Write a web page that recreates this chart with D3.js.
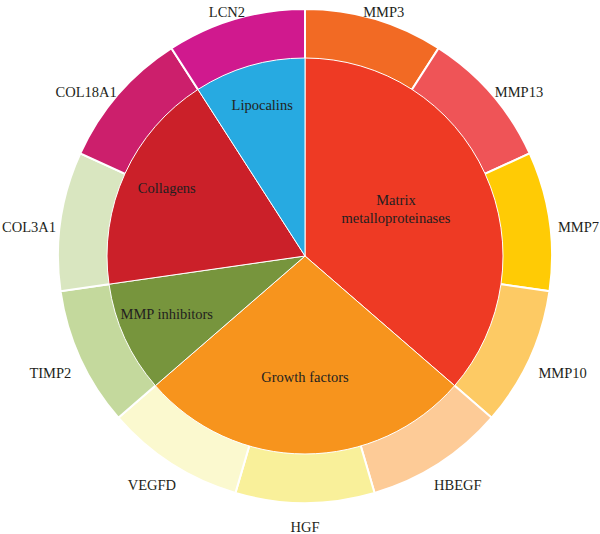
<!DOCTYPE html>
<html>
<head>
<meta charset="utf-8">
<script src="https://cdn.jsdelivr.net/npm/d3@7"></script>
<style>
  body { margin: 0; background: #fff; }
  text { font-family: "Liberation Serif", "DejaVu Serif", serif; font-size: 14.5px; fill: #231f20; }
</style>
</head>
<body>
<svg id="chart"></svg>
<script>
// inner ring: gene families
var categories = ["Matrix metalloproteinases", "Growth factors", "MMP inhibitors", "Collagens", "Lipocalins"];
var categoryLines = [["Matrix", "metalloproteinases"], ["Growth factors"], ["MMP inhibitors"], ["Collagens"], ["Lipocalins"]];
var categoryColors = ["#ee3a24", "#f7941d", "#77953d", "#cb2029", "#27aae1"];

// outer ring: genes (one slot each)
var genes = ["MMP3", "MMP13", "MMP7", "MMP10", "HBEGF", "HGF", "VEGFD", "TIMP2", "COL3A1", "COL18A1", "LCN2"];
var geneCategory = [0, 0, 0, 0, 1, 1, 1, 2, 3, 3, 4];
var geneValues = [1, 1, 1, 1, 1, 1, 1, 1, 1, 1, 1];
var geneColors = ["#f26a24", "#ef5457", "#ffcb05", "#fdca64", "#fdcb97", "#f9f09a", "#fbf9cf", "#c4d99d", "#d9e6c0", "#cc1f6c", "#d0198e"];

var width = 600, height = 534;
var cx = 305, cy = 256;
var rPie = 198, rOuter = 247;

// category sizes = number of genes in them
var catValues = categories.map(function(c, i) {
    return d3.sum(geneValues.filter(function(v, j) { return geneCategory[j] === i; }));
});

var svg = d3.select("#chart")
    .attr("width", width)
    .attr("height", height);

var g = svg.append("g")
    .attr("transform", "translate(" + cx + "," + cy + ")");

var pie = d3.pie().sort(null).value(function(d) { return d; });

var outerArcs = pie(geneValues);
var innerArcs = pie(catValues);

var ringArc = d3.arc().innerRadius(120).outerRadius(rOuter);
var pieArc = d3.arc().innerRadius(0).outerRadius(rPie);

g.selectAll("path.gene")
    .data(outerArcs)
  .enter().append("path")
    .attr("class", "gene")
    .attr("d", ringArc)
    .attr("fill", function(d, i) { return geneColors[i]; })
    .attr("stroke", "#fff")
    .attr("stroke-width", 2);

g.selectAll("path.cat")
    .data(innerArcs)
  .enter().append("path")
    .attr("class", "cat")
    .attr("d", pieArc)
    .attr("fill", function(d, i) { return categoryColors[i]; })
    .attr("stroke", "#fff")
    .attr("stroke-width", 1);

// labels inside the pie, bigger slices get them nearer the centre
var labelR = d3.scaleLinear().domain([2, 4]).range([152, 100]).clamp(true);

innerArcs.forEach(function(d, i) {
    var a = (d.startAngle + d.endAngle) / 2;
    var r = labelR(catValues[i]);
    var lines = categoryLines[i];
    var t = g.append("text")
        .attr("text-anchor", "middle")
        .attr("x", r * Math.sin(a))
        .attr("y", -r * Math.cos(a) - (lines.length - 1) * 9)
        .attr("dy", "0.35em");
    lines.forEach(function(l, k) {
        t.append("tspan")
            .attr("x", r * Math.sin(a))
            .attr("dy", k === 0 ? 0 : 18)
            .text(l);
    });
});

// gene labels around the ring
outerArcs.forEach(function(d, i) {
    var a = (d.startAngle + d.endAngle) / 2;
    var s = Math.sin(a), c = Math.cos(a);
    var t = g.append("text")
        .attr("text-anchor", "middle")
        .attr("dy", "0.35em")
        .text(genes[i]);
    var w = t.node().getComputedTextLength();
    var x = s * (rOuter + 12) + s * w / 2;
    // keep inside the page
    x = Math.max(x, -cx + 2 + w / 2);
    x = Math.min(x, width - cx - 1 - w / 2);
    t.attr("x", x)
     .attr("y", -c * (rOuter + 16) + 8);
});
</script>
</body>
</html>
